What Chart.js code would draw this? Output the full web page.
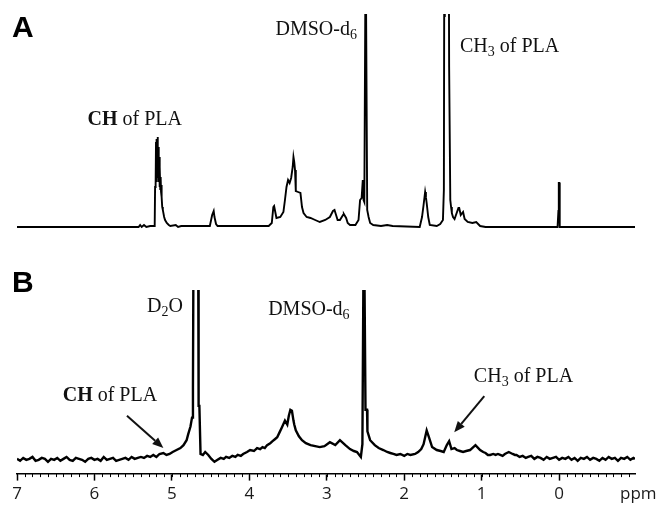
<!DOCTYPE html>
<html>
<head>
<meta charset="utf-8">
<script src="https://cdn.jsdelivr.net/npm/chart.js@4.4.1/dist/chart.umd.min.js"></script>
<style>
  html, body { margin: 0; padding: 0; background: #fff; }
  #wrap { position: relative; width: 659px; height: 507px; }
  #boxA { position: absolute; left: 0; top: 0; width: 659px; height: 240px; }
  #boxB { position: absolute; left: 0; top: 240px; width: 659px; height: 267px; }
</style>
</head>
<body>
<div id="wrap">
  <div id="boxA"><canvas id="chartA"></canvas></div>
  <div id="boxB"><canvas id="chartB"></canvas></div>
</div>
<script>
// spectrum A (in DMSO-d6): chemical shift (ppm) and intensity
const ppmA = [7.00, 5.60, 5.43, 5.41, 5.39, 5.36, 5.33, 5.28, 5.24, 5.222, 5.217, 5.21, 5.205, 5.20,
  5.195, 5.19, 5.185, 5.18, 5.175, 5.17, 5.165, 5.16, 5.155, 5.15, 5.145, 5.14, 5.135, 5.13, 5.125,
  5.117, 5.10, 5.088, 5.066, 5.04, 5.02, 4.95, 4.92, 4.88, 4.51, 4.48, 4.46, 4.45, 4.43, 4.41, 3.75,
  3.71, 3.69, 3.68, 3.65, 3.60, 3.56, 3.54, 3.52, 3.50, 3.48, 3.46, 3.44, 3.43, 3.42, 3.41, 3.40, 3.37,
  3.34, 3.32, 3.30, 3.26, 3.21, 3.15, 3.09, 3.02, 2.96, 2.92, 2.90, 2.88, 2.86, 2.83, 2.79, 2.78, 2.75,
  2.73, 2.70, 2.63, 2.59, 2.57, 2.55, 2.535, 2.525, 2.515, 2.500, 2.497, 2.494, 2.478, 2.46, 2.44, 2.40,
  2.30, 2.22, 2.15, 1.80, 1.77, 1.75, 1.73, 1.72, 1.71, 1.69, 1.67, 1.58, 1.535, 1.50, 1.488, 1.482,
  1.476, 1.47, 1.45, 1.425, 1.42, 1.412, 1.405, 1.395, 1.385, 1.37, 1.35, 1.30, 1.29, 1.27, 1.24, 1.22,
  1.18, 1.12, 1.07, 1.02, 0.95, 0.02, 0.009, 0.004, -0.004, -0.008, -0.98];
const intA = [0, 0, 0, 2, 0, 2, 0, 1, 1, 1, 40, 42, 85, 45,
  88, 50, 90, 55, 80, 45, 70, 40, 60, 38, 50, 35, 42, 30, 20,
  17, 10, 7, 4, 2, 1, 2, 0, 1, 1, 12, 16, 10, 3, 1, 1,
  4, 20, 21, 9, 10, 15, 27, 40, 47, 44, 49, 60, 70, 65, 57, 36, 35,
  34, 20, 14, 10, 9, 7, 5, 7, 10, 16, 17, 12, 7, 7, 12, 13, 9,
  4, 2, 2, 7, 27, 29, 47, 27, 25, 260, 150, 260, 17, 10, 4, 2,
  1, 2, 1, 0, 10, 22, 35, 30, 24, 10, 2, 1, 3, 7, 37, 300,
  210, 300, 300, 300, 160, 160, 27, 20, 14, 10, 8, 19, 19, 12, 15, 8,
  5, 4, 5, 1, 0, 0, 16, 44, 44, 0, 0];

// spectrum B (in D2O / DMSO-d6), noisy baseline
const ppmB = [7.00, 6.96, 6.92, 6.88, 6.84, 6.80, 6.76, 6.72, 6.68, 6.64, 6.60, 6.56, 6.52, 6.48, 6.44,
  6.40, 6.36, 6.32, 6.28, 6.24, 6.20, 6.16, 6.12, 6.08, 6.04, 6.00, 5.96, 5.92, 5.88, 5.84, 5.80, 5.76,
  5.72, 5.68, 5.64, 5.60, 5.56, 5.52, 5.48, 5.44, 5.40, 5.36, 5.32, 5.28, 5.24, 5.20, 5.16, 5.11, 5.07,
  5.03, 4.99, 4.94, 4.89, 4.85, 4.81, 4.79, 4.76, 4.74, 4.728, 4.722, 4.66, 4.655, 4.645, 4.63, 4.60,
  4.57, 4.53, 4.49, 4.45, 4.41, 4.37, 4.33, 4.30, 4.26, 4.22, 4.18, 4.15, 4.11, 4.08, 4.03, 3.99, 3.94,
  3.90, 3.86, 3.83, 3.80, 3.77, 3.73, 3.70, 3.67, 3.64, 3.61, 3.58, 3.54, 3.51, 3.49, 3.47, 3.45, 3.43,
  3.42, 3.40, 3.36, 3.32, 3.27, 3.21, 3.15, 3.09, 3.03, 2.96, 2.89, 2.83, 2.76, 2.70, 2.65, 2.61, 2.56,
  2.54, 2.528, 2.512, 2.50, 2.48, 2.475, 2.44, 2.38, 2.33, 2.27, 2.22, 2.18, 2.14, 2.10, 2.05, 2.00,
  1.96, 1.92, 1.86, 1.82, 1.78, 1.75, 1.71, 1.68, 1.64, 1.58, 1.53, 1.49, 1.45, 1.42, 1.39, 1.35, 1.32,
  1.28, 1.24, 1.20, 1.15, 1.08, 1.02, 0.98, 0.95, 0.92, 0.89, 0.85, 0.82, 0.79, 0.76, 0.73, 0.70, 0.65,
  0.60, 0.57, 0.55, 0.51, 0.47, 0.43, 0.40, 0.36, 0.32, 0.28, 0.24, 0.20, 0.16, 0.12, 0.08, 0.04, 0.00,
  -0.04, -0.08, -0.12, -0.16, -0.20, -0.24, -0.28, -0.32, -0.36, -0.40, -0.44, -0.48, -0.52, -0.56,
  -0.60, -0.64, -0.68, -0.72, -0.76, -0.80, -0.84, -0.88, -0.92, -0.96, -0.98];
const intB = [1, -1, 2, 0, 1, 3, -1, 0, 2, 1, -2, 1, 0, 2, -1,
  1, 3, 0, -1, 2, 1, 0, -2, 1, 2, 0, 1, -1, 3, 0, 1, 2,
  -1, 0, 1, 2, 0, 3, 1, 2, 3, 2, 4, 3, 5, 3, 6, 7, 5,
  6, 8, 10, 12, 15, 20, 26, 34, 43, 73, 200, 200, 55, 55, 6, 5,
  8, 5, 1, -2, 0, 2, 1, 3, 2, 4, 3, 5, 4, 6, 8, 10, 9,
  12, 11, 13, 12, 15, 17, 19, 21, 23, 28, 33, 40, 36, 45, 51, 50, 40,
  36, 30, 24, 20, 17, 15, 14, 13, 14, 18, 15, 20, 15, 11, 9, 8, 3,
  16, 172, 172, 51, 51, 29, 20, 15, 12, 10, 8, 7, 6, 5, 6, 4,
  6, 5, 6, 8, 11, 16, 30, 23, 13, 10, 9, 8, 15, 19, 11, 12, 10,
  9, 8, 9, 10, 15, 10, 8, 7, 5, 5, 6, 5, 6, 5, 4, 6, 8,
  6, 5, 5, 3, 4, 2, 3, 4, 1, 3, 2, 0, 3, 1, 2, 3, 0,
  2, 1, 3, 0, 2, -1, 2, 1, 3, 0, 2, 1, -1, 2,
  0, 3, 1, 2, -1, 2, 1, 3, 0, 2, 1];

const ppmTicks = [7, 6, 5, 4, 3, 2, 1, 0];
const ppmMin = -0.98;
const ppmMax = 7;

const SERIF = '"Liberation Serif", "Times New Roman", serif';

// text labels: parts, anchor (ppm, intensity), alignment
const notesA = [
  { parts: [{ t: 'CH', b: true }, { t: ' of PLA' }], ppm: 5.48, h: 109, align: 'center' },
  { parts: [{ t: 'DMSO-d' }, { t: '6', sub: true }], ppm: 2.61, h: 199, align: 'right' },
  { parts: [{ t: 'CH' }, { t: '3', sub: true }, { t: ' of PLA' }], ppm: 1.28, h: 182, align: 'left' }
];
const notesB = [
  { parts: [{ t: 'D' }, { t: '2', sub: true }, { t: 'O' }], ppm: 5.09, h: 157, align: 'center' },
  { parts: [{ t: 'DMSO-d' }, { t: '6', sub: true }], ppm: 3.757, h: 154, align: 'left' },
  { parts: [{ t: 'CH', b: true }, { t: ' of PLA' }], ppm: 5.80, h: 67, align: 'center' },
  { parts: [{ t: 'CH' }, { t: '3', sub: true }, { t: ' of PLA' }], ppm: 0.46, h: 86, align: 'center' }
];
const arrowsB = [
  { from: [5.58, 45], to: [5.11, 12] },
  { from: [0.966, 65], to: [1.354, 28] }
];

function partFont(p) {
  return (p.b ? 'bold ' : '') + (p.sub ? '14px ' : '20px ') + SERIF;
}

function drawRich(ctx, parts, x, yMid, align) {
  let w = 0;
  parts.forEach(p => { ctx.font = partFont(p); w += ctx.measureText(p.t).width; });
  let cx = align === 'center' ? x - w / 2 : align === 'right' ? x - w : x;
  const base = yMid + 6.5;
  ctx.textBaseline = 'alphabetic';
  ctx.textAlign = 'left';
  parts.forEach(p => {
    ctx.font = partFont(p);
    ctx.fillText(p.t, cx, p.sub ? base + 4 : base);
    cx += ctx.measureText(p.t).width;
  });
}

function drawArrow(ctx, x1, y1, x2, y2) {
  const ang = Math.atan2(y2 - y1, x2 - x1);
  const len = 11, half = 4.5;
  const bx = x2 - len * Math.cos(ang), by = y2 - len * Math.sin(ang);
  ctx.beginPath();
  ctx.moveTo(x1, y1);
  ctx.lineTo(bx, by);
  ctx.lineWidth = 2;
  ctx.stroke();
  ctx.beginPath();
  ctx.moveTo(x2, y2);
  ctx.lineTo(bx + half * Math.sin(ang), by - half * Math.cos(ang));
  ctx.lineTo(bx - half * Math.sin(ang), by + half * Math.cos(ang));
  ctx.closePath();
  ctx.fill();
}

function notesPlugin(panel, notes, arrows, panelY) {
  return {
    id: 'notes' + panel,
    afterDraw(chart) {
      const ctx = chart.ctx, xs = chart.scales.x, ys = chart.scales.y;
      ctx.save();
      ctx.fillStyle = '#111';
      ctx.strokeStyle = '#111';
      notes.forEach(n => drawRich(ctx, n.parts, xs.getPixelForValue(n.ppm), ys.getPixelForValue(n.h), n.align));
      arrows.forEach(a => drawArrow(ctx,
        xs.getPixelForValue(a.from[0]), ys.getPixelForValue(a.from[1]),
        xs.getPixelForValue(a.to[0]), ys.getPixelForValue(a.to[1])));
      ctx.font = 'bold 30px "Liberation Sans", Arial, sans-serif';
      ctx.textAlign = 'left';
      ctx.textBaseline = 'alphabetic';
      ctx.fillStyle = '#000';
      ctx.fillText(panel, 12, panelY);
      ctx.restore();
    }
  };
}

// minor ticks every 0.1 ppm plus the "ppm" unit label
const axisExtras = {
  id: 'axisExtras',
  afterDraw(chart) {
    const ctx = chart.ctx, xs = chart.scales.x;
    const yb = chart.chartArea.bottom;
    ctx.save();
    ctx.strokeStyle = '#000';
    ctx.lineWidth = 1;
    for (let i = 0; i <= 79; i++) {
      const v = ppmMax - i / 10;
      if (v < ppmMin) break;
      const px = Math.round(xs.getPixelForValue(v)) + 0.5;
      ctx.beginPath();
      ctx.moveTo(px, yb);
      ctx.lineTo(px, yb + 3.5);
      ctx.stroke();
    }
    ctx.fillStyle = '#1a1a1a';
    ctx.font = '17px "Open Sans", sans-serif';
    ctx.textAlign = 'left';
    ctx.textBaseline = 'middle';
    ctx.fillText('ppm', 620, yb + 7 + 3 + 10.2);
    ctx.restore();
  }
};

function toPoints(xs, ys) {
  return xs.map((x, i) => ({ x: x, y: ys[i] }));
}

const baseX = {
  type: 'linear',
  reverse: true,
  min: ppmMin,
  max: ppmMax
};

new Chart(document.getElementById('chartA'), {
  type: 'line',
  data: {
    datasets: [{
      data: toPoints(ppmA, intA),
      borderColor: '#000',
      borderWidth: 1.9,
      pointRadius: 0,
      tension: 0
    }]
  },
  options: {
    responsive: true,
    maintainAspectRatio: false,
    animation: false,
    layout: { padding: { left: 17, right: 24, top: 14, bottom: 10 } },
    plugins: { legend: { display: false }, tooltip: { enabled: false } },
    scales: {
      x: Object.assign({}, baseX, { display: false }),
      y: { display: false, min: -3, max: 213 }
    }
  },
  plugins: [notesPlugin('A', notesA, [], 37)]
});

new Chart(document.getElementById('chartB'), {
  type: 'line',
  data: {
    datasets: [{
      data: toPoints(ppmB, intB),
      borderColor: '#000',
      borderWidth: 2.4,
      pointRadius: 0,
      tension: 0
    }]
  },
  options: {
    responsive: true,
    maintainAspectRatio: false,
    animation: false,
    layout: { padding: { left: 17, right: 24, top: 50, bottom: 0 } },
    plugins: { legend: { display: false }, tooltip: { enabled: false } },
    scales: {
      x: Object.assign({}, baseX, {
        afterBuildTicks: axis => { axis.ticks = ppmTicks.map(v => ({ value: v })); },
        border: { display: true, color: '#000', width: 1.5 },
        grid: { drawOnChartArea: false, drawTicks: true, tickLength: 7, tickWidth: 1.5, tickColor: '#000' },
        ticks: {
          padding: 3,
          maxRotation: 0,
          autoSkip: false,
          color: '#1a1a1a',
          font: { family: '"Open Sans", sans-serif', size: 17, lineHeight: 1.2 }
        }
      }),
      y: { display: false, min: -14, max: 173 }
    }
  },
  plugins: [notesPlugin('B', notesB, arrowsB, 52), axisExtras]
});
</script>
</body>
</html>
